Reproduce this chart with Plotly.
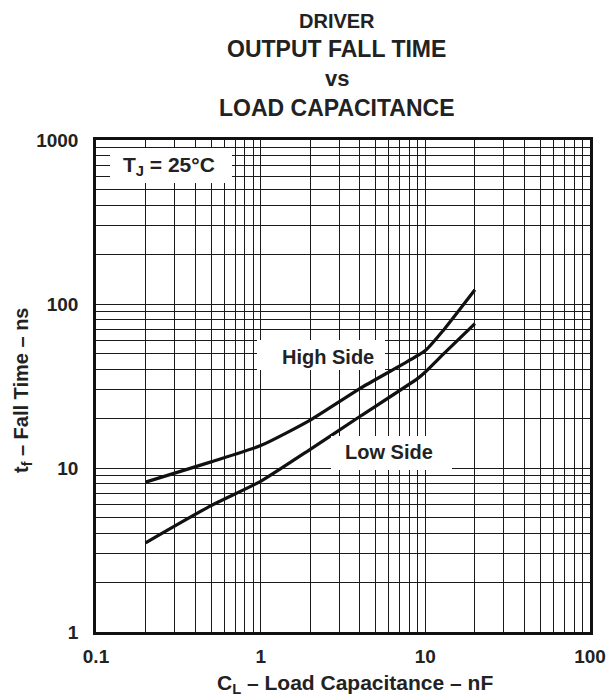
import plotly.graph_objects as go

# Data
cap_high = [0.2, 0.5, 1, 2, 4, 7, 10, 13, 20]
tf_high = [8.2, 10.9, 13.7, 19.6, 30.5, 42, 52, 70, 122]

cap_low = [0.2, 0.5, 1, 2, 4, 9, 10, 13, 20]
tf_low = [3.5, 5.9, 8.3, 13.0, 20.6, 35.2, 38.5, 50, 76]

x_ticks = [0.1, 1, 10, 100]
x_tick_labels = ["0.1", "1", "10", "100"]
y_ticks = [1, 10, 100, 1000]
y_tick_labels = ["1", "10", "100", "1000"]

FONT = "Liberation Sans, Arial, sans-serif"
TXT = "#222222"

fig = go.Figure()
for xs, ys in [(cap_high, tf_high), (cap_low, tf_low)]:
    fig.add_trace(go.Scatter(x=xs, y=ys, mode="lines",
                             line=dict(color="#111111", width=3.2, shape="spline", smoothing=0.6),
                             showlegend=False, hoverinfo="skip"))

grid_col = "#1a1a1a"
fig.update_xaxes(type="log", range=[-1, 2], tickvals=x_ticks, ticktext=x_tick_labels,
                 showgrid=True, gridcolor=grid_col, gridwidth=1.3,
                 minor=dict(dtick="D1", showgrid=True, gridcolor=grid_col, gridwidth=1.1, ticks=""),
                 showline=True, linecolor="#111111", linewidth=2.5, mirror=True,
                 ticks="", zeroline=False, ticklabelstandoff=5, automargin=False,
                 tickfont=dict(family=FONT, size=19, color=TXT, weight="bold"))
fig.update_yaxes(type="log", range=[0, 3], tickvals=y_ticks, ticktext=y_tick_labels,
                 showgrid=True, gridcolor=grid_col, gridwidth=1.3,
                 minor=dict(dtick="D1", showgrid=True, gridcolor=grid_col, gridwidth=1.1, ticks=""),
                 showline=True, linecolor="#111111", linewidth=2.5, mirror=True,
                 ticks="", zeroline=False, ticklabelstandoff=11, automargin=False,
                 tickfont=dict(family=FONT, size=19, color=TXT, weight="bold"))

# screen-pixel layout of the plot area in the reference
PL, PR, PT, PB = 96, 590, 140, 632


def px2paper(px, py):
    return (px - PL) / (PR - PL), (PB - py) / (PB - PT)


# axis titles
ax_x, ax_y = px2paper(355, 684)
fig.add_annotation(text="<b>C<sub>L</sub> – Load Capacitance – nF</b>", xref="paper", yref="paper",
                   x=ax_x, y=ax_y, xanchor="center", yanchor="middle", showarrow=False,
                   font=dict(family=FONT, size=21, color=TXT))
ay_x, ay_y = px2paper(22, 391)
fig.add_annotation(text="<b>t<sub>f</sub> – Fall Time – ns</b>", xref="paper", yref="paper",
                   x=ay_x, y=ay_y, xanchor="center", yanchor="middle", showarrow=False,
                   textangle=-90, font=dict(family=FONT, size=20, color=TXT))

# title lines: (text, centre y, font size)
title_lines = [("DRIVER", 21, 20), ("OUTPUT FALL TIME", 49, 23), ("vs", 79, 22),
               ("LOAD CAPACITANCE", 108, 23)]
for txt, py, fs in title_lines:
    tx, ty = px2paper(336.5, py)
    fig.add_annotation(text="<b>%s</b>" % txt, xref="paper", yref="paper",
                       x=tx, y=ty, xanchor="center", yanchor="middle", showarrow=False,
                       font=dict(family=FONT, size=fs, color=TXT))

# label boxes: (text, left, top, right, bottom, text centre x, text centre y, font size)
boxes = [
    ("<b>T<sub>J</sub> = 25°C</b>", 110, 148, 232, 183, 169, 166, 21),
    ("<b>High Side</b>", 257, 340, 385, 370, 328, 357, 20),
    ("<b>Low Side</b>", 331, 436, 452, 470, 389, 452, 20),
]
for txt, l, t, r, b, cx, cy, fs in boxes:
    bx, by = px2paper((l + r) / 2, (t + b) / 2)
    fig.add_annotation(text=" ", xref="paper", yref="paper", x=bx, y=by,
                       xanchor="center", yanchor="middle", showarrow=False,
                       width=r - l, height=b - t, borderpad=0, borderwidth=0,
                       bgcolor="white", font=dict(size=2))
    ax, ay = px2paper(cx, cy)
    fig.add_annotation(text=txt, xref="paper", yref="paper", x=ax, y=ay,
                       xanchor="center", yanchor="middle", showarrow=False,
                       font=dict(family=FONT, size=fs, color=TXT))

# The page body adds an 8px offset, so the figure is drawn 8px smaller and shifted.
fig.update_layout(width=608, height=689, plot_bgcolor="white", paper_bgcolor="white",
                  margin=dict(l=PL - 8, r=608 - (PR - 8), t=PT - 8, b=689 - (PB - 8)),
                  showlegend=False)

fig.write_html("out.html")
